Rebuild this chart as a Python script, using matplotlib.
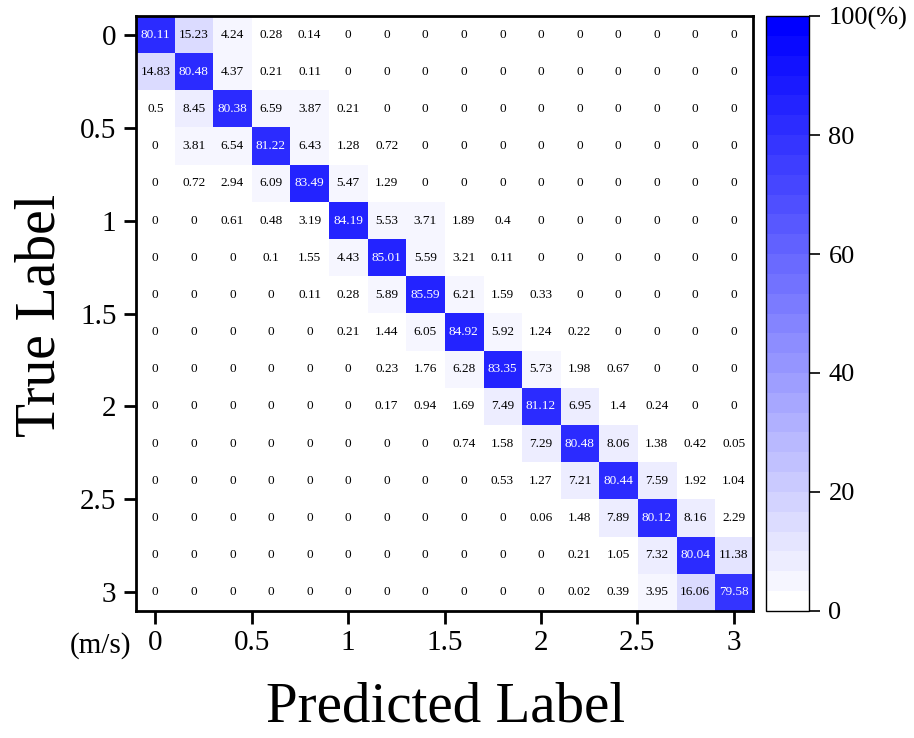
import numpy as np
import matplotlib
matplotlib.use("Agg")
from matplotlib import pyplot as plt
from matplotlib.colors import LinearSegmentedColormap

plt.rcParams["font.family"] = ["Liberation Serif", "DejaVu Serif"]

# confusion matrix (%), rows = true speed class, cols = predicted
conf = [
    [80.11, 15.23, 4.24, 0.28, 0.14, 0, 0, 0, 0, 0, 0, 0, 0, 0, 0, 0],
    [14.83, 80.48, 4.37, 0.21, 0.11, 0, 0, 0, 0, 0, 0, 0, 0, 0, 0, 0],
    [0.5, 8.45, 80.38, 6.59, 3.87, 0.21, 0, 0, 0, 0, 0, 0, 0, 0, 0, 0],
    [0, 3.81, 6.54, 81.22, 6.43, 1.28, 0.72, 0, 0, 0, 0, 0, 0, 0, 0, 0],
    [0, 0.72, 2.94, 6.09, 83.49, 5.47, 1.29, 0, 0, 0, 0, 0, 0, 0, 0, 0],
    [0, 0, 0.61, 0.48, 3.19, 84.19, 5.53, 3.71, 1.89, 0.4, 0, 0, 0, 0, 0, 0],
    [0, 0, 0, 0.1, 1.55, 4.43, 85.01, 5.59, 3.21, 0.11, 0, 0, 0, 0, 0, 0],
    [0, 0, 0, 0, 0.11, 0.28, 5.89, 85.59, 6.21, 1.59, 0.33, 0, 0, 0, 0, 0],
    [0, 0, 0, 0, 0, 0.21, 1.44, 6.05, 84.92, 5.92, 1.24, 0.22, 0, 0, 0, 0],
    [0, 0, 0, 0, 0, 0, 0.23, 1.76, 6.28, 83.35, 5.73, 1.98, 0.67, 0, 0, 0],
    [0, 0, 0, 0, 0, 0, 0.17, 0.94, 1.69, 7.49, 81.12, 6.95, 1.4, 0.24, 0, 0],
    [0, 0, 0, 0, 0, 0, 0, 0, 0.74, 1.58, 7.29, 80.48, 8.06, 1.38, 0.42, 0.05],
    [0, 0, 0, 0, 0, 0, 0, 0, 0, 0.53, 1.27, 7.21, 80.44, 7.59, 1.92, 1.04],
    [0, 0, 0, 0, 0, 0, 0, 0, 0, 0, 0.06, 1.48, 7.89, 80.12, 8.16, 2.29],
    [0, 0, 0, 0, 0, 0, 0, 0, 0, 0, 0, 0.21, 1.05, 7.32, 80.04, 11.38],
    [0, 0, 0, 0, 0, 0, 0, 0, 0, 0, 0, 0.02, 0.39, 3.95, 16.06, 79.58],
]
speed_ticks = [0, 2.5, 5, 7.5, 10, 12.5, 15]
speed_labels = ["0", "0.5", "1", "1.5", "2", "2.5", "3"]
cbar_ticks = [0, 20, 40, 60, 80, 100]
cbar_labels = ["0", "20", "40", "60", "80", "100(%)"]

conf = np.array(conf)
n = conf.shape[0]

cmap = LinearSegmentedColormap.from_list("wb", ["#ffffff", "#0000ff"], N=30)

fig = plt.figure(figsize=(9.14, 7.38), dpi=100)
ax = fig.add_axes([0.1488, 0.1721, 0.6751, 0.8062])
cax = fig.add_axes([0.8381, 0.1721, 0.0470, 0.8062])

im = ax.imshow(conf, cmap=cmap, vmin=0, vmax=100, aspect="auto",
               interpolation="nearest")

for i in range(n):
    for j in range(n):
        v = conf[i, j]
        ax.text(j, i, f"{v:g}", ha="center", va="center", fontsize=9.5,
                color="white" if v > 50 else "black")

ax.set_xticks(speed_ticks)
ax.set_xticklabels(speed_labels)
ax.set_yticks(speed_ticks)
ax.set_yticklabels(speed_labels)
ax.tick_params(axis="both", direction="out", length=9, width=2, labelsize=21)
ax.tick_params(axis="x", pad=5)
ax.tick_params(axis="y", pad=5)
for s in ax.spines.values():
    s.set_linewidth(2)

fig.text(0.044, 0.573, "True Label", rotation=90, ha="center", va="center",
         fontsize=40)
fig.text(0.487, 0.042, "Predicted Label", ha="center", va="center",
         fontsize=41)
fig.text(131 / 914, 1 - 646 / 738, "(m/s)", ha="right", va="center",
         fontsize=21)

cb = fig.colorbar(im, cax=cax)
cb.set_ticks(cbar_ticks)
cb.set_ticklabels(cbar_labels)
cb.outline.set_linewidth(1)
cax.tick_params(direction="out", length=8, width=1.2, labelsize=19, pad=6)

fig.savefig("out.png", dpi=100)
